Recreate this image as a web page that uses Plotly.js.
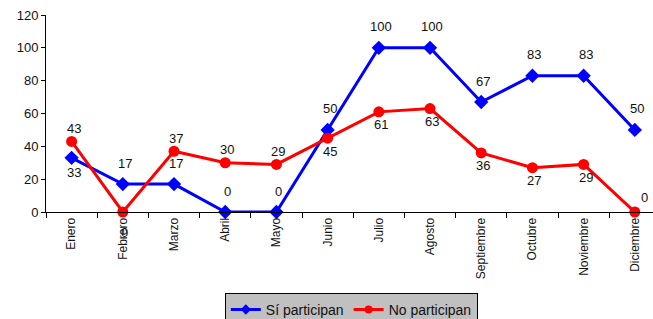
<!DOCTYPE html>
<html>
<head>
<meta charset="utf-8">
<script src="https://cdn.plot.ly/plotly-3.0.1.min.js"></script>
<style>html,body{margin:0;padding:0;background:#fff;}#chart{width:653px;height:319px;}</style>
</head>
<body>
<div id="chart"></div>
<script>
const months = ["Enero","Febrero","Marzo","Abril","Mayo","Junio","Julio","Agosto","Septiembre","Octubre","Noviembre","Diciembre"];
const siParticipan = [33,17,17,0,0,50,100,100,67,83,83,50];
const noParticipan = [43,0,37,30,29,45,61,63,36,27,29,0];
const yTicks = [0,20,40,60,80,100,120];

// label placement: 1 = above, -1 = below
const siLabelSide = [-1,1,1,1,1,1,1,1,1,1,1,1];
const noLabelSide = [1,-1,1,1,1,-1,-1,-1,-1,-1,-1,1];

const font = "Liberation Sans, Arial, sans-serif";

const traces = [
  {x: months, y: siParticipan, name: "Sí participan", type: "scatter", mode: "lines+markers", showlegend: false,
   line: {color: "#0000FF", width: 3}, marker: {symbol: "diamond", size: 11, color: "#0000FF"}, cliponaxis: false},
  {x: months, y: noParticipan, name: "No participan", type: "scatter", mode: "lines+markers", showlegend: false,
   line: {color: "#FF0000", width: 3}, marker: {symbol: "circle", size: 11, color: "#FF0000"}, cliponaxis: false},
  // legend entries with smaller symbols
  {x: [null], y: [null], name: "Sí participan", type: "scatter", mode: "lines+markers",
   line: {color: "#0000FF", width: 3}, marker: {symbol: "diamond", size: 8, color: "#0000FF"}},
  {x: [null], y: [null], name: "No participan", type: "scatter", mode: "lines+markers",
   line: {color: "#FF0000", width: 3}, marker: {symbol: "circle", size: 8, color: "#FF0000"}}
];

const annotations = [];
months.forEach((m, i) => {
  annotations.push({x: m, y: siParticipan[i], text: String(siParticipan[i]), showarrow: false,
    xshift: 2, yshift: siLabelSide[i] > 0 ? 21 : -15, font: {family: font, size: 13, color: "#111"}});
  let ys = noLabelSide[i] > 0 ? 13 : -13;
  let xs = 2;
  if (noParticipan[i] === 0 && noLabelSide[i] > 0) { xs = 10; ys = 15; }
  if (noParticipan[i] === 0 && noLabelSide[i] < 0) { ys = -20; }
  annotations.push({x: m, y: noParticipan[i], text: String(noParticipan[i]), showarrow: false,
    xshift: xs, yshift: ys, font: {family: font, size: 13, color: "#111"}});
});

const layout = {
  width: 653, height: 319,
  margin: {l: 46, r: 0, t: 15, b: 107, pad: 0},
  paper_bgcolor: "#fff", plot_bgcolor: "#fff",
  font: {family: font, size: 13, color: "#111"},
  showlegend: true,
  legend: {orientation: "h", xref: "container", yref: "container", x: 0.538, xanchor: "center",
    y: 0.082, yanchor: "top", bgcolor: "#C0C0C0", bordercolor: "#000", borderwidth: 1,
    font: {family: font, size: 14, color: "#111"}, itemclick: false, tracegroupgap: 0, itemwidth: 30},
  xaxis: {type: "category", range: [-0.5, 11.355], tickson: "boundaries", ticks: "outside", ticklen: 5,
    tickcolor: "#000", showline: true, linecolor: "#000", linewidth: 1, showgrid: false, zeroline: false,
    tickangle: -90, tickfont: {family: font, size: 12, color: "#111"}, fixedrange: true},
  yaxis: {range: [0, 120], tickvals: yTicks, ticks: "outside", ticklen: 4, tickcolor: "#000",
    showline: true, linecolor: "#000", linewidth: 1, showgrid: false, zeroline: false,
    tickfont: {family: font, size: 13, color: "#111"}, fixedrange: true},
  annotations: annotations
};

Plotly.newPlot("chart", traces, layout, {displayModeBar: false, staticPlot: true});
</script>
</body>
</html>
